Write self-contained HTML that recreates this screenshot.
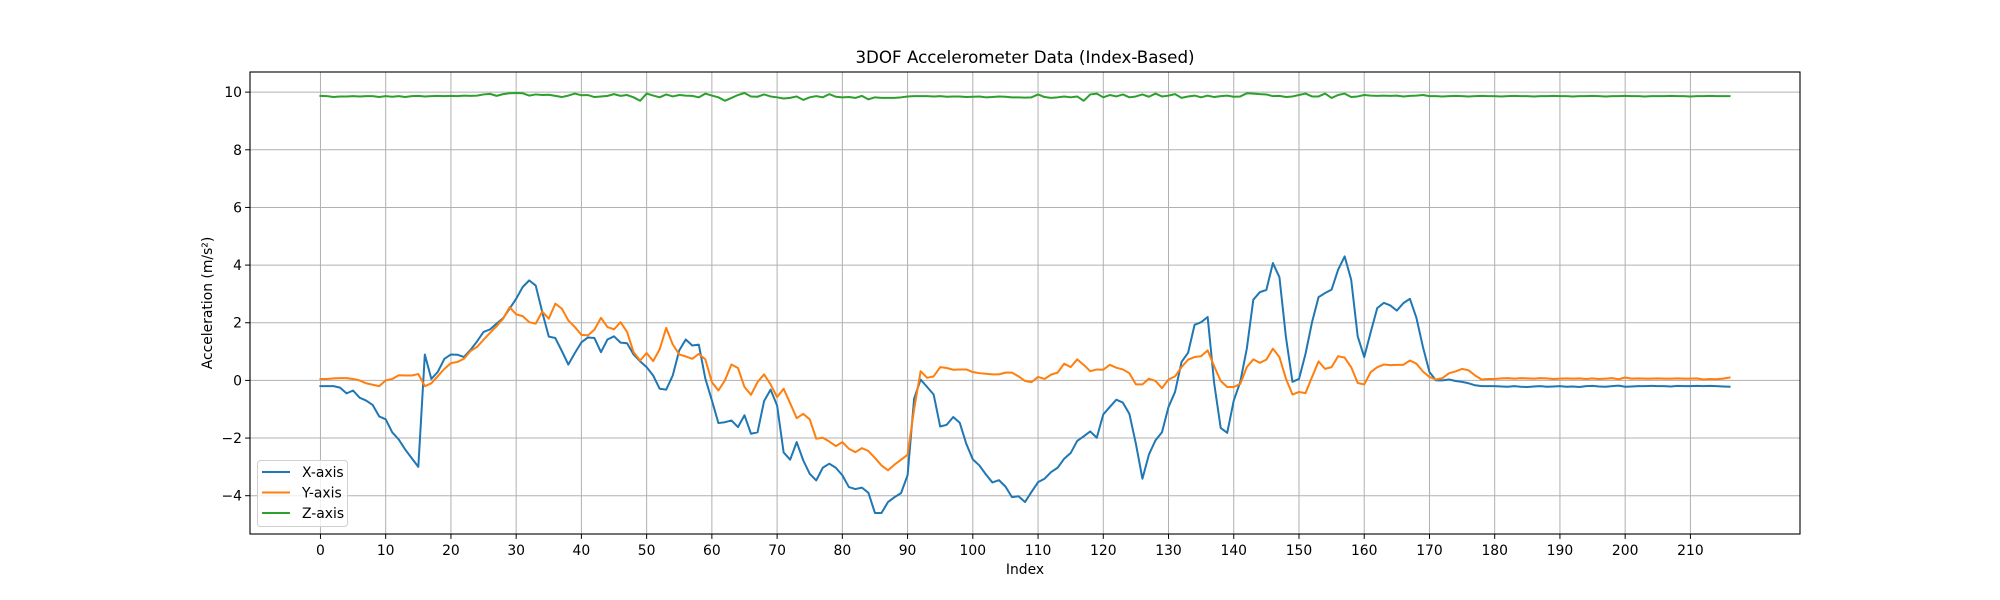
<!DOCTYPE html>
<html><head><meta charset="utf-8"><style>
html,body{margin:0;padding:0;background:#fff;}
svg{display:block;font-family:"DejaVu Sans","Liberation Sans",sans-serif;}
</style></head><body>
<svg id="chart" width="2000" height="600" viewBox="0 0 2000 600" xmlns="http://www.w3.org/2000/svg">
<rect width="2000" height="600" fill="#fff"/>
<g id="grid"></g>
<g id="series"></g>
<rect x="250" y="72" width="1550" height="462" fill="none" stroke="#000" stroke-width="1.1"/>
<g id="ticks"></g>
<text x="1025" y="63" font-size="16.7" text-anchor="middle">3DOF Accelerometer Data (Index-Based)</text>
<text x="1025" y="574" font-size="13.9" text-anchor="middle">Index</text>
<text x="0" y="0" font-size="13.9" text-anchor="middle" transform="translate(212,303) rotate(-90)">Acceleration (m/s²)</text>
<g>
<rect x="257.5" y="460.5" width="90" height="66" rx="3" fill="#fff" fill-opacity="0.8" stroke="#d0d0d0"/>
<g><line x1="262" y1="472" x2="290" y2="472" stroke="#1f77b4" stroke-width="2"/><text x="302" y="477" font-size="13.9">X-axis</text></g>
<g><line x1="262" y1="492.5" x2="290" y2="492.5" stroke="#ff7f0e" stroke-width="2"/><text x="302" y="497.5" font-size="13.9">Y-axis</text></g>
<g><line x1="262" y1="513" x2="290" y2="513" stroke="#2ca02c" stroke-width="2"/><text x="302" y="518" font-size="13.9">Z-axis</text></g>
</g>
</svg>
<script>
const xTicks=[0,10,20,30,40,50,60,70,80,90,100,110,120,130,140,150,160,170,180,190,200,210];
const yTicks=[-4,-2,0,2,4,6,8,10];
const seriesX=[-0.2,-0.2,-0.2,-0.25,-0.45,-0.35,-0.6,-0.7,-0.85,-1.25,-1.35,-1.8,-2.05,-2.4,-2.7,-3.0,0.9,0.05,0.3,0.75,
0.9,0.89,0.81,1.06,1.35,1.68,1.77,1.97,2.16,2.49,
2.83,3.24,3.47,3.29,2.37,1.52,1.47,1.02,0.55,0.95,
1.32,1.49,1.47,0.98,1.42,1.53,1.31,1.29,0.9,0.66,
0.46,0.17,-0.29,-0.32,0.17,1.04,1.42,1.21,1.24,0.06,
-0.69,-1.48,-1.45,-1.39,-1.62,-1.21,-1.85,-1.8,-0.72,-0.32,
-0.87,-2.5,-2.75,-2.14,-2.77,-3.24,-3.47,-3.03,-2.89,-3.03,
-3.29,-3.7,-3.77,-3.72,-3.9,-4.6,-4.6,-4.22,-4.05,-3.91,
-3.29,-0.64,0.03,-0.23,-0.49,-1.6,-1.54,-1.27,-1.47,-2.2,
-2.74,-2.95,-3.26,-3.54,-3.46,-3.68,-4.05,-4.02,-4.22,-3.87,
-3.53,-3.41,-3.18,-3.03,-2.72,-2.52,-2.1,-1.94,-1.77,-1.99,
-1.18,-0.92,-0.67,-0.77,-1.16,-2.2,-3.41,-2.57,-2.08,-1.8,
-0.92,-0.4,0.64,0.96,1.93,2.02,2.2,-0.1,-1.65,-1.82,
-0.7,-0.05,1.1,2.8,3.06,3.14,4.07,3.58,1.5,-0.05,
0.05,0.92,2.02,2.89,3.03,3.15,3.84,4.3,3.49,1.53,
0.81,1.68,2.51,2.69,2.6,2.42,2.68,2.83,2.17,1.16,
0.29,0.0,0.0,0.03,-0.02,-0.05,-0.1,-0.17,-0.2,-0.2,
-0.2,-0.21,-0.22,-0.2,-0.22,-0.23,-0.21,-0.2,-0.22,-0.21,-0.2,-0.22,-0.21,-0.23,-0.2,-0.19,-0.21,-0.22,-0.2,-0.18,
-0.22,-0.21,-0.2,-0.2,-0.19,-0.2,-0.2,-0.21,-0.19,-0.2,-0.2,-0.19,-0.2,-0.19,-0.2,-0.21,-0.22];
const seriesY=[0.05,0.05,0.07,0.08,0.08,0.05,0.0,-0.1,-0.15,-0.2,0.0,0.05,0.18,0.17,0.17,0.22,-0.2,-0.1,0.15,0.4,
0.6,0.64,0.75,1.02,1.16,1.41,1.65,1.88,2.14,2.54,
2.29,2.23,2.02,1.97,2.39,2.14,2.66,2.49,2.08,1.85,
1.58,1.56,1.76,2.17,1.85,1.77,2.02,1.68,0.98,0.69,
0.95,0.67,1.08,1.82,1.25,0.9,0.83,0.75,0.92,0.73,
-0.06,-0.35,0.0,0.55,0.43,-0.23,-0.5,-0.06,0.21,-0.14,
-0.58,-0.29,-0.79,-1.31,-1.16,-1.35,-2.02,-1.99,-2.12,-2.28,
-2.14,-2.37,-2.49,-2.35,-2.45,-2.69,-2.95,-3.12,-2.92,-2.75,
-2.58,-1.0,0.32,0.09,0.14,0.46,0.43,0.37,0.38,0.38,
0.29,0.25,0.23,0.21,0.21,0.27,0.27,0.14,-0.02,-0.06,
0.12,0.05,0.2,0.27,0.58,0.46,0.73,0.54,0.32,0.38,
0.37,0.54,0.44,0.38,0.25,-0.14,-0.14,0.06,-0.02,-0.27,
0.03,0.14,0.46,0.72,0.81,0.84,1.04,0.49,-0.02,-0.23,
-0.23,-0.12,0.46,0.73,0.61,0.72,1.1,0.81,0.06,-0.49,
-0.4,-0.44,0.12,0.66,0.4,0.46,0.84,0.79,0.46,-0.09,
-0.14,0.29,0.46,0.55,0.53,0.54,0.54,0.69,0.58,0.31,
0.12,0.03,0.08,0.25,0.31,0.4,0.35,0.17,0.03,0.05,
0.05,0.07,0.08,0.06,0.08,0.07,0.06,0.08,0.07,0.05,0.06,0.07,0.06,0.07,0.05,0.07,0.05,0.06,0.08,0.04,
0.1,0.06,0.07,0.06,0.06,0.07,0.06,0.06,0.07,0.06,0.06,0.07,0.03,0.05,0.04,0.06,0.1];
const seriesZ=[9.87,9.86,9.83,9.85,9.85,9.86,9.85,9.86,9.86,9.83,9.86,9.84,9.86,9.83,9.86,9.87,9.85,9.86,9.87,9.86,
9.87,9.86,9.88,9.87,9.88,9.92,9.94,9.87,9.93,9.96,9.97,9.96,9.88,9.92,9.9,9.91,9.87,9.83,9.88,
9.95,9.89,9.9,9.83,9.85,9.87,9.93,9.87,9.9,9.82,9.7,9.95,9.88,9.82,9.92,9.85,9.9,9.88,9.87,9.82,
9.95,9.88,9.82,9.7,9.8,9.9,9.97,9.85,9.84,9.92,9.85,9.82,9.78,9.8,9.85,9.73,9.82,9.86,9.82,9.93,
9.84,9.82,9.83,9.8,9.87,9.75,9.82,9.8,9.8,9.8,9.82,9.85,9.86,9.86,9.86,9.85,9.86,9.84,9.85,9.85,
9.83,9.84,9.85,9.82,9.83,9.85,9.84,9.82,9.82,9.81,9.82,9.92,9.83,9.8,9.82,9.85,9.82,9.85,9.7,9.92,
9.95,9.82,9.9,9.85,9.92,9.82,9.85,9.92,9.84,9.95,9.85,9.88,9.93,9.8,9.85,9.88,9.82,9.88,9.83,9.86,
9.88,9.84,9.85,9.96,9.95,9.93,9.92,9.86,9.87,9.83,9.85,9.9,9.95,9.85,9.85,9.95,9.8,9.9,9.95,9.83,
9.85,9.9,9.88,9.87,9.88,9.87,9.88,9.85,9.87,9.88,9.9,9.86,9.86,9.85,9.86,9.87,9.86,9.85,9.86,9.87,
9.86,9.86,9.85,9.86,9.87,9.86,9.86,9.85,9.86,9.86,9.87,9.86,9.86,9.85,9.86,9.86,9.87,9.86,9.85,9.86,
9.86,9.87,9.86,9.86,9.85,9.86,9.86,9.86,9.87,9.86,9.86,9.85,9.86,9.86,9.87,9.86,9.86,9.86];
const seriesNames=['X-axis','Y-axis','Z-axis'];

const L=250,R=1800,T=72,B=534;
const n=seriesX.length;
const all=seriesX.concat(seriesY,seriesZ);
const dmin=Math.min(...all),dmax=Math.max(...all);
const ypad=(dmax-dmin)*0.05,xpad=(n-1)*0.05;
const y0=dmin-ypad,y1=dmax+ypad,x0=-xpad,x1=(n-1)+xpad;
function sx(i){return L+(i-x0)/(x1-x0)*(R-L);}
function sy(v){return B-(v-y0)/(y1-y0)*(B-T);}
const NS='http://www.w3.org/2000/svg';
function mk(tag,attrs,parent){const e=document.createElementNS(NS,tag);for(const k in attrs)e.setAttribute(k,attrs[k]);parent.appendChild(e);return e;}
const grid=document.getElementById('grid'),ticks=document.getElementById('ticks'),ser=document.getElementById('series');
xTicks.forEach(t=>{
  const x=sx(t);
  const g=mk('line',{x1:x,x2:x,y1:T,y2:B,stroke:'#b0b0b0','stroke-width':1},grid);
  
  
  const tk=mk('line',{x1:x,x2:x,y1:B,y2:B+4.9,stroke:'#000','stroke-width':1},ticks);
  
  
  const tx=mk('text',{x:x,y:B+21,'font-size':13.9,'text-anchor':'middle'},ticks);
  tx.textContent=t;
  
  
});
yTicks.forEach(t=>{
  const y=sy(t);
  const g=mk('line',{x1:L,x2:R,y1:y,y2:y,stroke:'#b0b0b0','stroke-width':1},grid);
  
  
  const tk=mk('line',{x1:L-4.9,x2:L,y1:y,y2:y,stroke:'#000','stroke-width':1},ticks);
  
  
  const tx=mk('text',{x:L-8,y:y+5,'font-size':13.9,'text-anchor':'end'},ticks);
  tx.textContent=(t<0?'\u2212'+(-t):t);
  
  
});
[[seriesX,'#1f77b4','x-axis-line'],[seriesY,'#ff7f0e','y-axis-line'],[seriesZ,'#2ca02c','z-axis-line']].forEach(([arr,c,name])=>{
  const d=arr.map((v,i)=>(i?'L':'M')+sx(i).toFixed(2)+','+sy(v).toFixed(2)).join('');
  const p=mk('path',{d:d,fill:'none',stroke:c,'stroke-width':2,'stroke-linejoin':'round','stroke-linecap':'square'},ser);
  
  
});
</script>
</body></html>
